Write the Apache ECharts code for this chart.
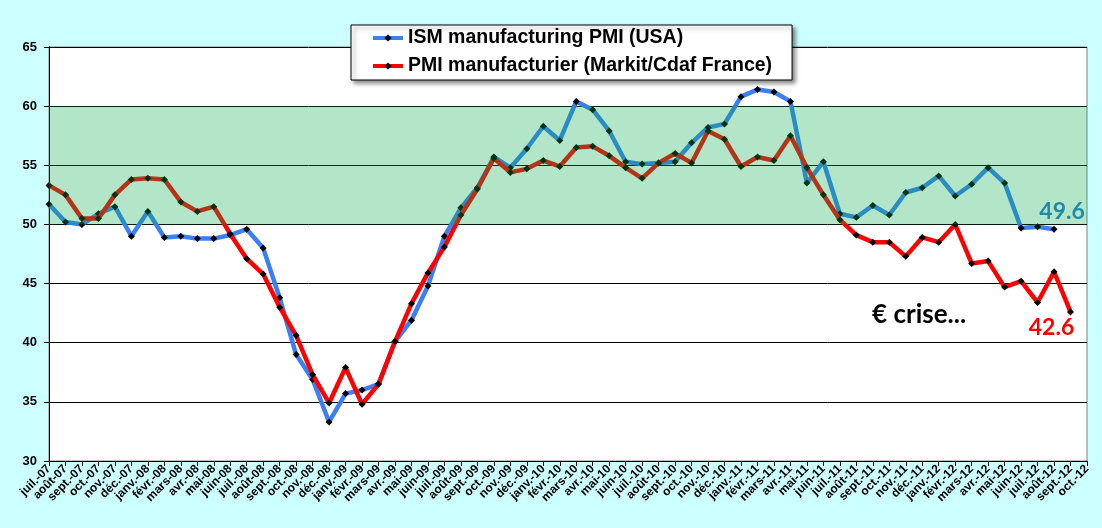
<!DOCTYPE html>
<html>
<head>
<meta charset="utf-8">
<script src="https://cdn.jsdelivr.net/npm/echarts@6/dist/echarts.min.js"></script>
<style>
  html, body { margin: 0; padding: 0; background: #ccffff; }
  #main { width: 1102px; height: 528px; }
</style>
</head>
<body>
<div id="main"></div>
<script>
// mois (juil. 2007 -> oct. 2012)
var months = [
  'juil.-07', 'août-07', 'sept.-07', 'oct.-07', 'nov.-07', 'déc.-07',
  'janv.-08', 'févr.-08', 'mars-08', 'avr.-08', 'mai-08', 'juin-08',
  'juil.-08', 'août-08', 'sept.-08', 'oct.-08', 'nov.-08', 'déc.-08',
  'janv.-09', 'févr.-09', 'mars-09', 'avr.-09', 'mai-09', 'juin-09',
  'juil.-09', 'août-09', 'sept.-09', 'oct.-09', 'nov.-09', 'déc.-09',
  'janv.-10', 'févr.-10', 'mars-10', 'avr.-10', 'mai-10', 'juin-10',
  'juil.-10', 'août-10', 'sept.-10', 'oct.-10', 'nov.-10', 'déc.-10',
  'janv.-11', 'févr.-11', 'mars-11', 'avr.-11', 'mai-11', 'juin-11',
  'juil.-11', 'août-11', 'sept.-11', 'oct.-11', 'nov.-11', 'déc.-11',
  'janv.-12', 'févr.-12', 'mars-12', 'avr.-12', 'mai-12', 'juin-12',
  'juil.-12', 'août-12', 'sept.-12', 'oct.-12'
];

// ISM manufacturing PMI (USA)
var ismUsa = [
  51.7, 50.2, 50.0, 50.9, 51.5, 49.0,
  51.1, 48.9, 49.0, 48.8, 48.8, 49.1,
  49.6, 48.0, 43.8, 39.0, 36.9, 33.3,
  35.7, 36.0, 36.5, 40.1, 41.9, 44.8,
  49.0, 51.4, 53.1, 55.7, 54.8, 56.4,
  58.3, 57.1, 60.4, 59.7, 57.9, 55.3,
  55.1, 55.2, 55.3, 56.9, 58.2, 58.5,
  60.8, 61.4, 61.2, 60.4, 53.5, 55.3,
  50.9, 50.6, 51.6, 50.8, 52.7, 53.1,
  54.1, 52.4, 53.4, 54.8, 53.5, 49.7,
  49.8, 49.6, null, null
];

// PMI manufacturier (Markit/Cdaf France)
var pmiFrance = [
  53.3, 52.5, 50.5, 50.5, 52.5, 53.8,
  53.9, 53.8, 51.9, 51.1, 51.5, 49.2,
  47.1, 45.8, 43.0, 40.6, 37.3, 34.9,
  37.9, 34.8, 36.5, 40.1, 43.3, 45.9,
  48.1, 50.8, 53.0, 55.6, 54.4, 54.7,
  55.4, 54.9, 56.5, 56.6, 55.8, 54.8,
  53.9, 55.2, 56.0, 55.2, 57.9, 57.2,
  54.9, 55.7, 55.4, 57.5, 54.8, 52.5,
  50.4, 49.1, 48.5, 48.5, 47.3, 48.9,
  48.5, 50.0, 46.7, 46.9, 44.7, 45.2,
  43.4, 46.0, 42.6, null
];

var yTicks = { min: 30, max: 65, step: 5 };
var band = [50, 60];

var chart = echarts.init(document.getElementById('main'));

var option = {
  backgroundColor: '#ccffff',
  animation: false,
  textStyle: { fontFamily: 'Liberation Sans, Arial, sans-serif' },
  grid: {
    left: 49,
    right: 15,
    top: 47,
    bottom: 67,
    show: true,
    backgroundColor: '#ffffff',
    borderColor: '#808080',
    borderWidth: 1
  },
  legend: {
    orient: 'vertical',
    left: 351,
    top: 25,
    data: ['ISM manufacturing PMI (USA)', 'PMI manufacturier (Markit/Cdaf France)'],
    backgroundColor: '#ffffff',
    borderColor: '#000000',
    borderWidth: 1,
    borderRadius: 0,
    padding: [3, 20, 4, 20],
    itemGap: 8,
    itemWidth: 30,
    itemHeight: 9,
    lineStyle: { width: 4 },
    shadowBlur: 4,
    shadowOffsetX: 3,
    shadowOffsetY: 3,
    shadowColor: 'rgba(0,0,0,0.45)',
    textStyle: {
      fontSize: 19.5,
      fontWeight: 'bold',
      color: '#000000',
      lineHeight: 20,
      fontFamily: 'Liberation Sans, Arial, sans-serif'
    }
  },
  xAxis: {
    type: 'category',
    boundaryGap: false,
    data: months,
    axisLine: { lineStyle: { color: '#000000', width: 1 } },
    axisTick: { show: true, length: 5, lineStyle: { color: '#000000' } },
    axisLabel: {
      interval: 0,
      rotate: 45,
      fontSize: 12,
      fontWeight: 'bold',
      color: '#000000',
      margin: 6
    },
    splitLine: { show: false }
  },
  yAxis: {
    type: 'value',
    min: yTicks.min,
    max: yTicks.max,
    interval: yTicks.step,
    axisLine: { show: true, lineStyle: { color: '#000000' } },
    axisTick: { show: true, length: 5, lineStyle: { color: '#000000' } },
    axisLabel: { fontSize: 13, fontWeight: 'bold', color: '#000000', margin: 12 },
    splitLine: { show: true, lineStyle: { color: '#000000', width: 1 } }
  },
  graphic: [{
    type: 'text',
    left: 872,
    top: 302,
    style: {
      text: '€ crise...',
      fontSize: 26,
      fontWeight: 'bold',
      fontFamily: 'Lato, Open Sans, sans-serif',
      fill: '#000000'
    }
  }],
  series: [
    {
      name: 'ISM manufacturing PMI (USA)',
      type: 'line',
      data: ismUsa,
      z: 2,
      symbol: 'diamond',
      symbolSize: 7,
      showAllSymbol: true,
      lineStyle: { color: '#3b7ff5', width: 4.5 },
      itemStyle: { color: '#000000' },
      markPoint: {
        symbol: 'circle',
        symbolSize: 0,
        label: {
          show: true,
          formatter: '{c}',
          offset: [8, -18],
          fontSize: 23,
          fontWeight: 'bold',
          fontFamily: 'Lato, Open Sans, sans-serif',
          color: '#2a7bd0'
        },
        data: [{ coord: [months[61], ismUsa[61]], value: ismUsa[61] }]
      }
    },
    {
      name: 'PMI manufacturier (Markit/Cdaf France)',
      type: 'line',
      data: pmiFrance,
      z: 3,
      symbol: 'diamond',
      symbolSize: 7,
      showAllSymbol: true,
      lineStyle: { color: '#ff0000', width: 4.5 },
      itemStyle: { color: '#000000' },
      markPoint: {
        symbol: 'circle',
        symbolSize: 0,
        label: {
          show: true,
          formatter: '{c}',
          offset: [-19, 16],
          fontSize: 23,
          fontWeight: 'bold',
          fontFamily: 'Lato, Open Sans, sans-serif',
          color: '#ff0000'
        },
        data: [{ coord: [months[62], pmiFrance[62]], value: pmiFrance[62] }]
      }
    },
    {
      // zone verte 50-60, dessinée par-dessus les courbes (transparente)
      name: 'zone',
      type: 'line',
      data: [],
      z: 10,
      silent: true,
      markArea: {
        silent: true,
        z: 10,
        itemStyle: { color: 'rgba(2,172,72,0.3)' },
        data: [[{ yAxis: band[0] }, { yAxis: band[1] }]]
      }
    }
  ]
};

chart.setOption(option);
</script>
</body>
</html>
